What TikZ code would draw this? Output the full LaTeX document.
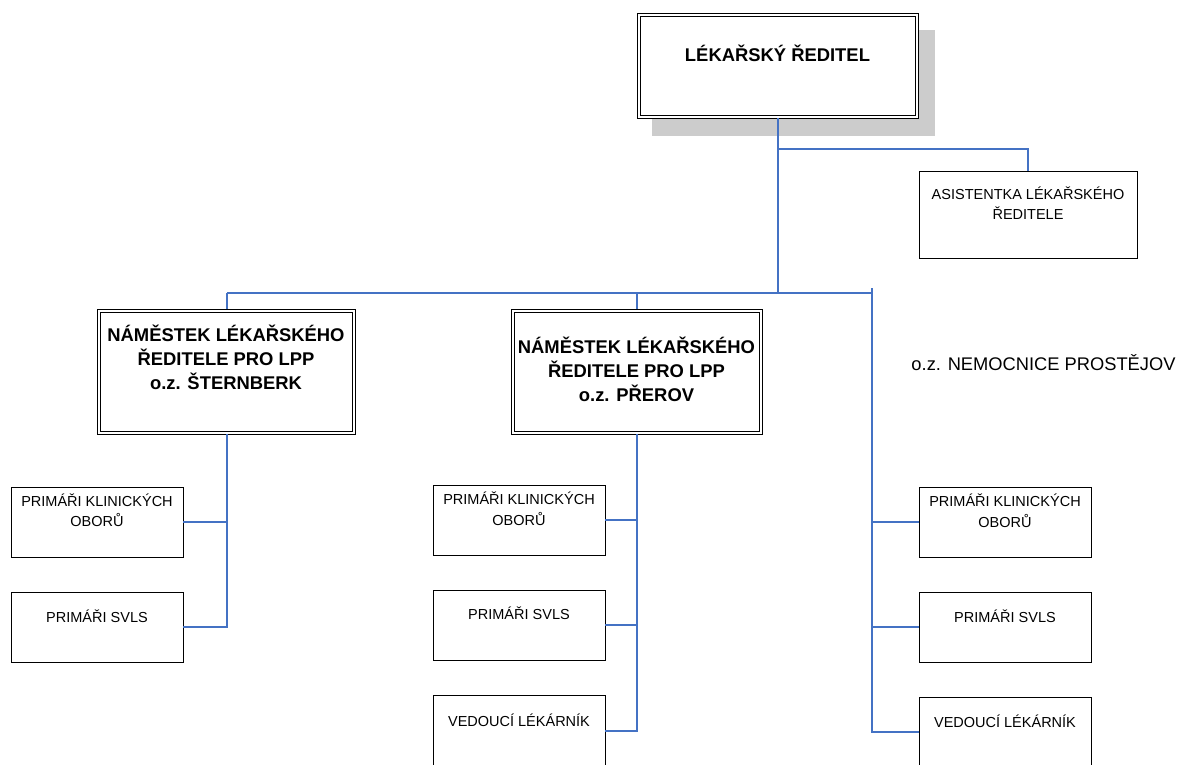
\documentclass[tikz,border=0pt]{standalone}
\usepackage{fontspec}
\setmainfont{Liberation Sans}
\definecolor{conn}{RGB}{68,114,196}
\definecolor{shadowgray}{RGB}{204,204,204}
\tikzset{
  sbox/.style={draw=black, line width=0.9pt, fill=white, rectangle, inner sep=0pt},
  innerline/.style={draw=black, line width=0.9pt},
  boldtxt/.style={font=\fontsize{18.4}{24}\selectfont\bfseries, align=center, inner sep=0pt},
  normtxt/.style={font=\fontsize{14.5}{20.5}\selectfont, align=center, inner sep=0pt},
  conline/.style={draw=conn, line width=1.2pt},
}
\begin{document}
\begin{tikzpicture}[x=1pt,y=-1pt]
\useasboundingbox (0,0) rectangle (1179,764);
\clip (0,0) rectangle (1179,764);
\fill[white] (0,0) rectangle (1179,764);
% shadow
\fill[shadowgray] (652,30) rectangle (935,136);
% top box
\node[sbox, minimum width=281pt, minimum height=105pt] (top) at (777.5,65.5) {};
\draw[innerline] ([shift={(3.5,3.5)}]top.north west) rectangle ([shift={(-3.5,-3.5)}]top.south east);
\node[boldtxt] (toptxt) at (777.5,53) {LÉKAŘSKÝ ŘEDITEL};
% assistant
\node[sbox, minimum width=218pt, minimum height=87pt] (asst) at (1028,214.5) {};
\node[normtxt] (assttxt) at (1028,203) {ASISTENTKA LÉKAŘSKÉHO\\ŘEDITELE};
% deputy boxes
\node[sbox, minimum width=258pt, minimum height=125pt] (dep1) at (226,371.5) {};
\draw[innerline] ([shift={(3.5,3.5)}]dep1.north west) rectangle ([shift={(-3.5,-3.5)}]dep1.south east);
\node[boldtxt] (dep1txt) at (226,357.5) {NÁMĚSTEK LÉKAŘSKÉHO\\ŘEDITELE PRO LPP\\o.z. ŠTERNBERK};
\node[sbox, minimum width=251pt, minimum height=125pt] (dep2) at (636.5,371.5) {};
\draw[innerline] ([shift={(3.5,3.5)}]dep2.north west) rectangle ([shift={(-3.5,-3.5)}]dep2.south east);
\node[boldtxt] (dep2txt) at (636.5,369.5) {NÁMĚSTEK LÉKAŘSKÉHO\\ŘEDITELE PRO LPP\\o.z. PŘEROV};
% Prostějov label
\node[font=\fontsize{18.3}{22}\selectfont, inner sep=0pt] (prost) at (1043.5,363) {o.z. NEMOCNICE PROSTĚJOV};
% left column
\node[sbox, minimum width=172pt, minimum height=70pt] (l1) at (97,522) {};
\node[normtxt] (l1txt) at (97,510) {PRIMÁŘI KLINICKÝCH\\OBORŮ};
\node[sbox, minimum width=172pt, minimum height=70pt] (l2) at (97,627) {};
\node[normtxt] (l2txt) at (97,616) {PRIMÁŘI SVLS};
% middle column
\node[sbox, minimum width=172pt, minimum height=70pt] (m1) at (519,520) {};
\node[normtxt] (m1txt) at (519,508.5) {PRIMÁŘI KLINICKÝCH\\OBORŮ};
\node[sbox, minimum width=172pt, minimum height=70pt] (m2) at (519,625) {};
\node[normtxt] (m2txt) at (519,613) {PRIMÁŘI SVLS};
\node[sbox, minimum width=172pt, minimum height=70pt] (m3) at (519,730) {};
\node[normtxt] (m3txt) at (519,720) {VEDOUCÍ LÉKÁRNÍK};
% right column
\node[sbox, minimum width=172pt, minimum height=70pt] (r1) at (1005,522) {};
\node[normtxt] (r1txt) at (1005,510.5) {PRIMÁŘI KLINICKÝCH\\OBORŮ};
\node[sbox, minimum width=172pt, minimum height=70pt] (r2) at (1005,627) {};
\node[normtxt] (r2txt) at (1005,616) {PRIMÁŘI SVLS};
\node[sbox, minimum width=172pt, minimum height=70pt] (r3) at (1005,732) {};
\node[normtxt] (r3txt) at (1005,721) {VEDOUCÍ LÉKÁRNÍK};
% coordinates
\coordinate (hub) at (778,293);
\coordinate (asstbr) at (778,149);
\coordinate (hleft) at (227,293);
\coordinate (hright) at (872,293);
\coordinate (rtop) at (872,288);
\coordinate (rbot) at (872,733);
% connectors
\draw[conline] (top.south -| hub) -- (hub);
\draw[conline] (asstbr) -| (asst.north);
\draw[conline] (hleft) -- (hright);
\draw[conline] (hleft) -- (dep1.north -| hleft);
\draw[conline] (637,293) -- (dep2.north -| 637,0);
\draw[conline] (rtop) -- (rbot);
% left spine
\draw[conline] (dep1.south -| hleft) -- (227,627) -- (l2.east);
\draw[conline] (l1.east) -- (l1.east -| hleft);
% middle spine
\draw[conline] (dep2.south -| 637,0) -- (637,731) -- (m3.east |- 0,731);
\draw[conline] (m1.east) -- (m1.east -| 637,0);
\draw[conline] (m2.east) -- (m2.east -| 637,0);
% right branches
\draw[conline] (r1.west) -- (r1.west -| rtop);
\draw[conline] (r2.west) -- (r2.west -| rtop);
\draw[conline] (r3.west) -- (r3.west -| rtop);
\end{tikzpicture}
\end{document}
